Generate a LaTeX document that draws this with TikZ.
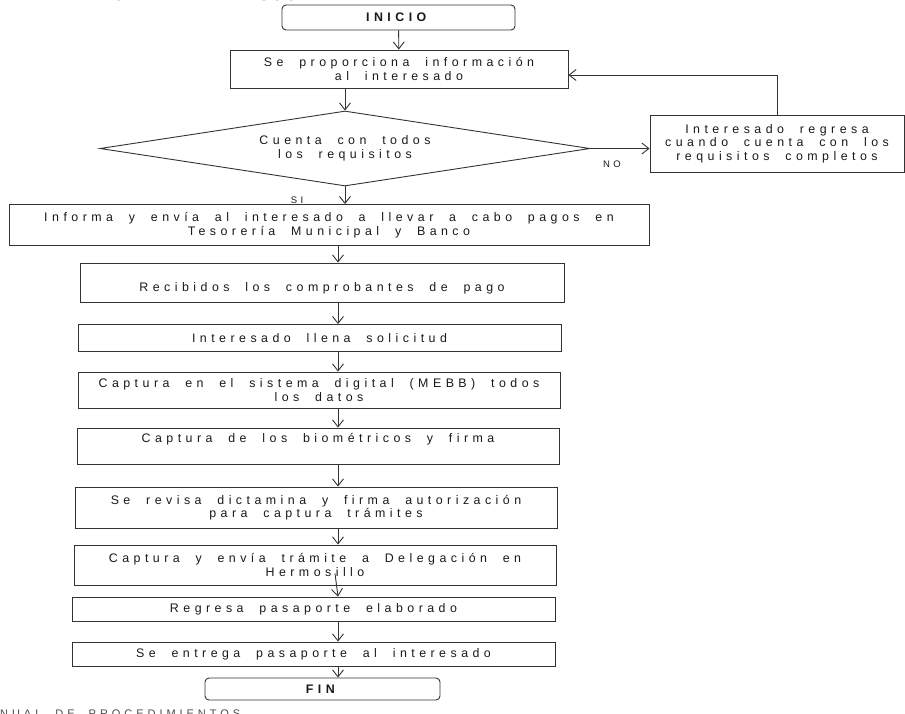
\documentclass[tikz,border=0pt]{standalone}
\usepackage{fontspec}
\setmainfont[LetterSpace=36,WordSpace=2]{Liberation Sans}
\newfontfamily\plainff{Liberation Sans}
\usetikzlibrary{arrows.meta,shapes.geometric,calc}
\begin{document}
\begin{tikzpicture}[x=1pt,y=-1pt,
  every node/.style={font=\fontsize{12.4}{13.5}\selectfont, text=black!90},
  proc/.style={draw=black!80, line width=0.9pt, rectangle, align=center, inner sep=1pt},
  term/.style={proc, rounded corners=4pt},
  dec/.style={draw=black!80, line width=0.9pt, diamond, aspect=6.5, inner sep=0pt, align=center},
  arr/.style={draw=black!80, line width=0.9pt, -{Straight Barb[length=7pt,width=11pt]}},
  lbl/.style={font=\fontsize{9.5}{10}\selectfont}
]
\useasboundingbox (0,0) rectangle (905,713);
\coordinate (ax) at (338,0);

\node[font=\plainff\bfseries\fontsize{21}{22}\selectfont, anchor=base east, inner sep=0pt] (title) at (300,0.3) {DIAGRAMA DE FLUJO};
\node[font=\fontsize{11}{12}\selectfont, text=black!70, anchor=base west, inner sep=0pt] (foot) at (0,717) {NUAL DE PROCEDIMIENTOS};

\node[term, minimum width=233pt, minimum height=25pt] (inicio) at (398.5,17.5) {\textbf{INICIO}};
\node[proc, minimum width=338pt, minimum height=38pt] (b1) at (399,69) {Se proporciona información\\al interesado};
\node[dec, minimum width=490pt, minimum height=75pt] (dia) at (345,148.5) {Cuenta con todos\\los requisitos};
\node[proc, minimum width=254pt, minimum height=57pt] (rb) at (777,143.5) {Interesado regresa\\cuando cuenta con los\\requisitos completos};
\node[proc, minimum width=640pt, minimum height=41pt] (b3) at (329,225) {Informa y envía al interesado a llevar a cabo pagos en\\Tesorería Municipal y Banco};
\node[proc, minimum width=484pt, minimum height=39pt, text height=20pt, text depth=2pt] (b4) at (322,282.5) {Recibidos los comprobantes de pago};
\node[proc, minimum width=483pt, minimum height=27pt] (b5) at (319.5,338) {Interesado llena solicitud};
\node[proc, minimum width=482pt, minimum height=36pt] (b6) at (319,390) {Captura en el sistema digital (MEBB) todos\\los datos};
\node[proc, minimum width=482pt, minimum height=36pt, text height=8pt, text depth=16pt] (b7) at (318,446) {Captura de los biométricos y firma};
\node[proc, minimum width=482pt, minimum height=41pt] (b8) at (316,507.5) {Se revisa dictamina y firma autorización\\para captura trámites};
\node[proc, minimum width=482pt, minimum height=40pt] (b9) at (315,565) {Captura y envía trámite a Delegación en\\Hermosillo};
\node[proc, minimum width=483pt, minimum height=24pt] (b10) at (313.5,609) {Regresa pasaporte elaborado};
\node[proc, minimum width=483pt, minimum height=24pt] (b11) at (313.5,654) {Se entrega pasaporte al interesado};
\node[term, minimum width=235pt, minimum height=22pt] (fin) at (322.5,689) {\textbf{FIN}};

\draw[arr] (inicio) -- (b1);
\draw[arr] (b1.south -| dia.north) -- (dia.north);
\draw[arr] (dia.east) -- (dia.east -| rb.west);
\node[lbl] (no) at (612,164) {NO};
\draw[arr] (rb.north) |- ($(b1.east)+(0,6)$);
\draw[arr] (dia.south) -- (b3.north -| dia.south);
\node[lbl] (si) at (297,200) {SI};
\draw[arr] (b3.south -| ax) -- (b4.north -| ax);
\draw[arr] (b4.south -| ax) -- (b5.north -| ax);
\draw[arr] (b5.south -| ax) -- (b6.north -| ax);
\draw[arr] (b6.south -| ax) -- (b7.north -| ax);
\draw[arr] (b7.south -| ax) -- (b8.north -| ax);
\draw[arr] (b8.south -| ax) -- (b9.north -| ax);
\draw[arr] ($(b9.south -| ax)+(-3,-12)$) -- (b10.north -| ax);
\draw[arr] (b10.south -| ax) -- (b11.north -| ax);
\draw[arr] (b11.south -| ax) -- (fin.north -| ax);
\end{tikzpicture}
\end{document}
